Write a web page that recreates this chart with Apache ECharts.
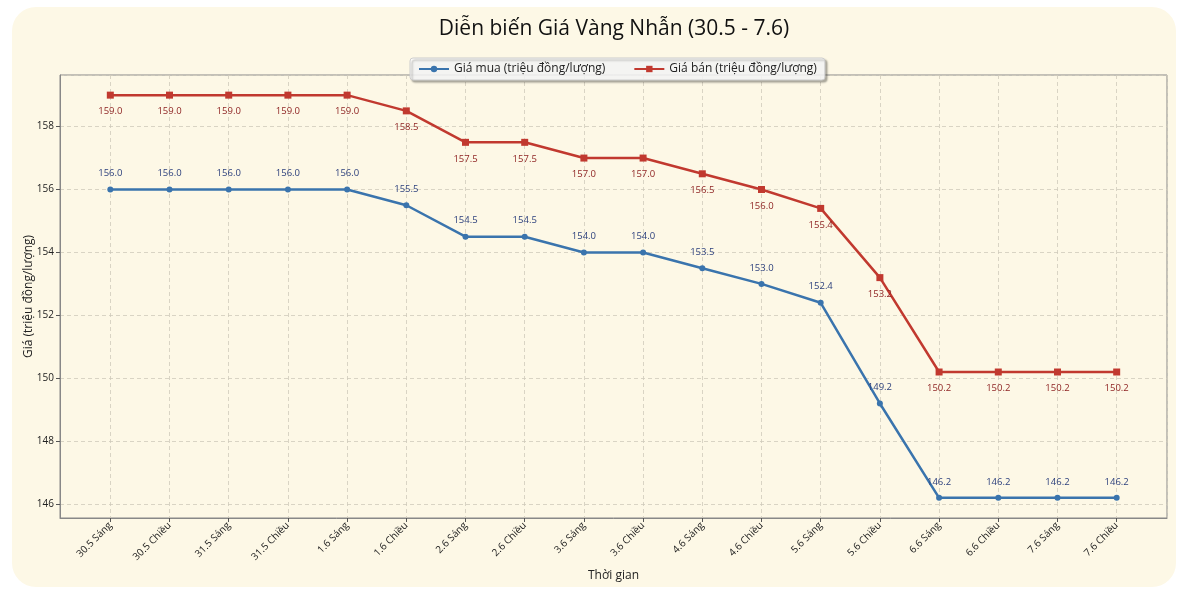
<!DOCTYPE html>
<html>
<head>
<meta charset="utf-8">
<script src="https://cdn.jsdelivr.net/npm/echarts@6/dist/echarts.min.js"></script>
<style>
    html, body { margin: 0; padding: 0; background: #ffffff; }
    #panel {
        position: absolute; left: 12px; top: 7px; width: 1164px; height: 580px;
        background: #fdf8e6; border-radius: 24px;
    }
    #main { position: absolute; left: 0; top: 0; width: 1184px; height: 590px; }
</style>
</head>
<body>
<div id="panel"></div>
<div id="main"></div>
<script>
// du lieu gia vang nhan
var categories = ['30.5 Sáng', '30.5 Chiều', '31.5 Sáng', '31.5 Chiều', '1.6 Sáng', '1.6 Chiều',
    '2.6 Sáng', '2.6 Chiều', '3.6 Sáng', '3.6 Chiều', '4.6 Sáng', '4.6 Chiều',
    '5.6 Sáng', '5.6 Chiều', '6.6 Sáng', '6.6 Chiều', '7.6 Sáng', '7.6 Chiều'];
var giaMua = [156.0, 156.0, 156.0, 156.0, 156.0, 155.5, 154.5, 154.5, 154.0, 154.0, 153.5, 153.0,
    152.4, 149.2, 146.2, 146.2, 146.2, 146.2];
var giaBan = [159.0, 159.0, 159.0, 159.0, 159.0, 158.5, 157.5, 157.5, 157.0, 157.0, 156.5, 156.0,
    155.4, 153.2, 150.2, 150.2, 150.2, 150.2];

var font = 'Open Sans';

function pairs(arr)
{
    var out = [];
    for (var i = 0; i < arr.length; i++) {
        out.push([i, arr[i]]);
    }
    return out;
}

var myChart = echarts.init(document.getElementById('main'));
var options = {
    backgroundColor: 'transparent',
    textStyle: { fontFamily: font },
    title: {
        text: 'Diễn biến Giá Vàng Nhẫn (30.5 - 7.6)',
        left: 609, top: 14, textAlign: 'center',
        textStyle: { fontSize: 21, fontWeight: 'normal', color: '#111', fontFamily: font }
    },
    legend: {
        left: 410, top: 58,
        orient: 'horizontal',
        itemWidth: 30, itemHeight: 8, itemGap: 28,
        padding: [5, 8, 5, 8],
        backgroundColor: 'rgba(255,255,255,0.85)',
        borderColor: '#cccccc', borderWidth: 1, borderRadius: 3,
        shadowColor: 'rgba(0,0,0,0.35)', shadowBlur: 2, shadowOffsetX: 2, shadowOffsetY: 2,
        textStyle: { fontSize: 12, color: '#222', fontFamily: font }
    },
    grid: { left: 60, right: 17, top: 75, bottom: 72, show: true, borderColor: '#888', borderWidth: 1 },
    xAxis: {
        type: 'value',
        min: -0.85, max: 17.85, splitNumber: 18,
        name: 'Thời gian', nameLocation: 'middle', nameGap: 52, nameMoveOverlap: false,
        nameTextStyle: { fontSize: 12, color: '#222' },
        axisLine: { show: true, onZero: false, lineStyle: { color: '#888' } },
        axisTick: { show: true, length: 4, lineStyle: { color: '#555' } },
        axisLabel: {
            rotate: 45, fontSize: 10, color: '#222', margin: 6,
            showMinLabel: false, showMaxLabel: false,
            formatter: function (v) {
                return Number.isInteger(v) ? (categories[v] || '') : '';
            }
        },
        splitLine: { show: true, lineStyle: { color: '#cfcabb', type: [4, 3], width: 0.8 } }
    },
    yAxis: {
        type: 'value',
        min: 145.56, max: 159.64, splitNumber: 7,
        name: 'Giá (triệu đồng/lượng)', nameLocation: 'middle', nameGap: 25, nameMoveOverlap: false,
        nameTextStyle: { fontSize: 12, color: '#222' },
        axisLine: { show: true, onZero: false, lineStyle: { color: '#888' } },
        axisTick: { show: true, length: 4, lineStyle: { color: '#555' } },
        axisLabel: {
            fontSize: 10, color: '#222', margin: 6,
            showMinLabel: false, showMaxLabel: false,
            formatter: function (v) {
                return Number.isInteger(v) ? String(v) : '';
            }
        },
        splitLine: { show: true, lineStyle: { color: '#cfcabb', type: [4, 3], width: 0.8 } }
    },
    series: [
        {
            name: 'Giá mua (triệu đồng/lượng)',
            type: 'line',
            data: pairs(giaMua),
            symbol: 'circle', symbolSize: 6,
            color: '#3a74ad',
            lineStyle: { width: 2.5, color: '#3a74ad' },
            label: {
                show: true, position: 'top', distance: 8, fontSize: 9.5, color: '#2b3f7c',
                formatter: function (p) { return p.value[1].toFixed(1); }
            },
            z: 3
        },
        {
            name: 'Giá bán (triệu đồng/lượng)',
            type: 'line',
            data: pairs(giaBan),
            symbol: 'rect', symbolSize: 7,
            color: '#c1392f',
            lineStyle: { width: 2.5, color: '#c1392f' },
            label: {
                show: true, position: 'bottom', distance: 8, fontSize: 9.5, color: '#8c1f1f',
                formatter: function (p) { return p.value[1].toFixed(1); }
            },
            z: 3
        }
    ]
};
myChart.setOption(options);
</script>
</body>
</html>
